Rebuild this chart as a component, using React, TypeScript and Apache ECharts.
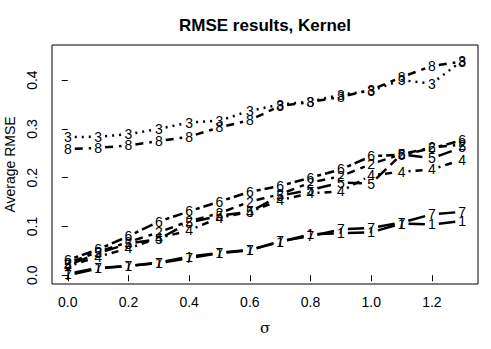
import React, { useEffect, useRef } from "react";
import * as echarts from "echarts";

const sigma = [0, 0.1, 0.2, 0.3, 0.4, 0.5, 0.6, 0.7, 0.8, 0.9, 1.0, 1.1, 1.2, 1.3];
const s1 = [0.003, 0.015, 0.019, 0.026, 0.038, 0.046, 0.052, 0.068, 0.084, 0.086, 0.088, 0.106, 0.104, 0.111];
const s2 = [0.025, 0.048, 0.068, 0.088, 0.111, 0.127, 0.151, 0.166, 0.190, 0.203, 0.228, 0.248, 0.262, 0.268];
const s3 = [0.283, 0.284, 0.289, 0.300, 0.313, 0.317, 0.337, 0.350, 0.356, 0.370, 0.378, 0.400, 0.393, 0.440];
const s4 = [0.018, 0.038, 0.055, 0.076, 0.092, 0.118, 0.130, 0.154, 0.168, 0.172, 0.205, 0.212, 0.217, 0.237];
const s5 = [0.020, 0.045, 0.065, 0.074, 0.108, 0.122, 0.130, 0.163, 0.175, 0.190, 0.188, 0.248, 0.240, 0.262];
const s6 = [0.031, 0.053, 0.080, 0.110, 0.131, 0.151, 0.171, 0.183, 0.200, 0.217, 0.244, 0.247, 0.260, 0.277];
const s7 = [0.000, 0.014, 0.019, 0.025, 0.035, 0.045, 0.051, 0.070, 0.080, 0.094, 0.097, 0.108, 0.125, 0.130];
const s8 = [0.259, 0.261, 0.266, 0.275, 0.284, 0.303, 0.318, 0.347, 0.355, 0.366, 0.380, 0.406, 0.429, 0.438];

const seriesNames = ["1", "2", "3", "4", "5", "6", "7", "8"];
const seriesValues = [s1, s2, s3, s4, s5, s6, s7, s8];

const xTicks = [0, 0.2, 0.4, 0.6, 0.8, 1.0, 1.2];
const yTicks = [0, 0.1, 0.2, 0.3, 0.4];

const titleText = "RMSE results, Kernel";
const xName = "σ";
const yName = "Average RMSE";

// R line types: solid, dashed, dotted, dotdash, longdash, twodash (recycled)
const dashes: (number[] | null)[] = [
  null,
  [8, 6],
  [2, 5],
  [2, 5, 7, 5],
  [14, 6],
  [4, 4, 12, 4],
  null,
  [8, 6],
];

const GAP = 7;
const FONT = '14px "Liberation Sans", Arial, sans-serif';

function makeSeries(idx: number) {
  const name = seriesNames[idx];
  const ys = seriesValues[idx];
  const dash = dashes[idx];
  return {
    type: "custom",
    name,
    coordinateSystem: "cartesian2d",
    clip: false,
    data: sigma.map((x, i) => [x, ys[i]]),
    renderItem: (params: any, api: any) => {
      const i = params.dataIndex;
      const p = api.coord([api.value(0), api.value(1)]);
      const children: any[] = [];
      if (i < sigma.length - 1) {
        const q = api.coord([sigma[i + 1], ys[i + 1]]);
        const dx = q[0] - p[0];
        const dy = q[1] - p[1];
        const d = Math.hypot(dx, dy);
        const f = GAP / d;
        if (f < 0.5) {
          children.push({
            type: "line",
            shape: {
              x1: p[0] + f * dx,
              y1: p[1] + f * dy,
              x2: q[0] - f * dx,
              y2: q[1] - f * dy,
            },
            style: {
              stroke: "#000",
              lineWidth: 2.5,
              lineDash: dash || undefined,
              lineCap: "butt",
            },
          });
        }
      }
      children.push({
        type: "text",
        x: p[0],
        y: p[1],
        style: {
          text: name,
          textAlign: "center",
          textVerticalAlign: "middle",
          font: FONT,
          fill: "#000",
        },
      });
      return { type: "group", children };
    },
  };
}

export default function App() {
  const ref = useRef<HTMLDivElement>(null);
  useEffect(() => {
    if (!ref.current) return;
    const chart = echarts.init(ref.current, null, { renderer: "svg" });
    chart.setOption({
      animation: false,
      backgroundColor: "#fff",
      grid: {
        left: 52,
        right: 13,
        top: 45,
        bottom: 65,
        show: true,
        borderColor: "#000",
        borderWidth: 1,
        backgroundColor: "transparent",
      },
      xAxis: {
        type: "value",
        min: -0.052,
        max: 1.352,
        axisLine: { show: false },
        splitLine: { show: false },
        axisTick: {
          show: true,
          length: 6,
          customValues: xTicks,
          lineStyle: { color: "#000", width: 1 },
        },
        axisLabel: {
          customValues: xTicks,
          margin: 11,
          color: "#000",
          fontSize: 14,
          fontFamily: '"Liberation Sans", Arial, sans-serif',
          formatter: (v: number) => v.toFixed(1),
        },
      },
      yAxis: {
        type: "value",
        min: -0.018,
        max: 0.472,
        axisLine: { show: false },
        splitLine: { show: false },
        axisTick: {
          show: true,
          length: 6,
          customValues: yTicks,
          lineStyle: { color: "#000", width: 1 },
        },
        axisLabel: {
          customValues: yTicks,
          rotate: 90,
          margin: 13,
          color: "#000",
          fontSize: 14,
          fontFamily: '"Liberation Sans", Arial, sans-serif',
          formatter: (v: number) => v.toFixed(1),
        },
      },
      graphic: [
        {
          type: "text",
          x: 265,
          y: 25,
          style: {
            text: titleText,
            textAlign: "center",
            textVerticalAlign: "middle",
            font: 'bold 17px "Liberation Sans", Arial, sans-serif',
            fill: "#000",
          },
        },
        {
          type: "text",
          x: 265,
          y: 328,
          style: {
            text: xName,
            textAlign: "center",
            textVerticalAlign: "middle",
            font: '15px "DejaVu Serif", "Liberation Serif", serif',
            fill: "#000",
          },
        },
        {
          type: "text",
          x: 10,
          y: 164.5,
          rotation: Math.PI / 2,
          style: {
            text: yName,
            textAlign: "center",
            textVerticalAlign: "middle",
            font: FONT,
            fill: "#000",
          },
        },
      ],
      series: seriesNames.map((_, i) => makeSeries(i)),
    });
    return () => chart.dispose();
  }, []);
  return (
    <div
      ref={ref}
      style={{ position: "fixed", left: 0, top: 0, width: 491, height: 349, background: "#fff" }}
    />
  );
}
